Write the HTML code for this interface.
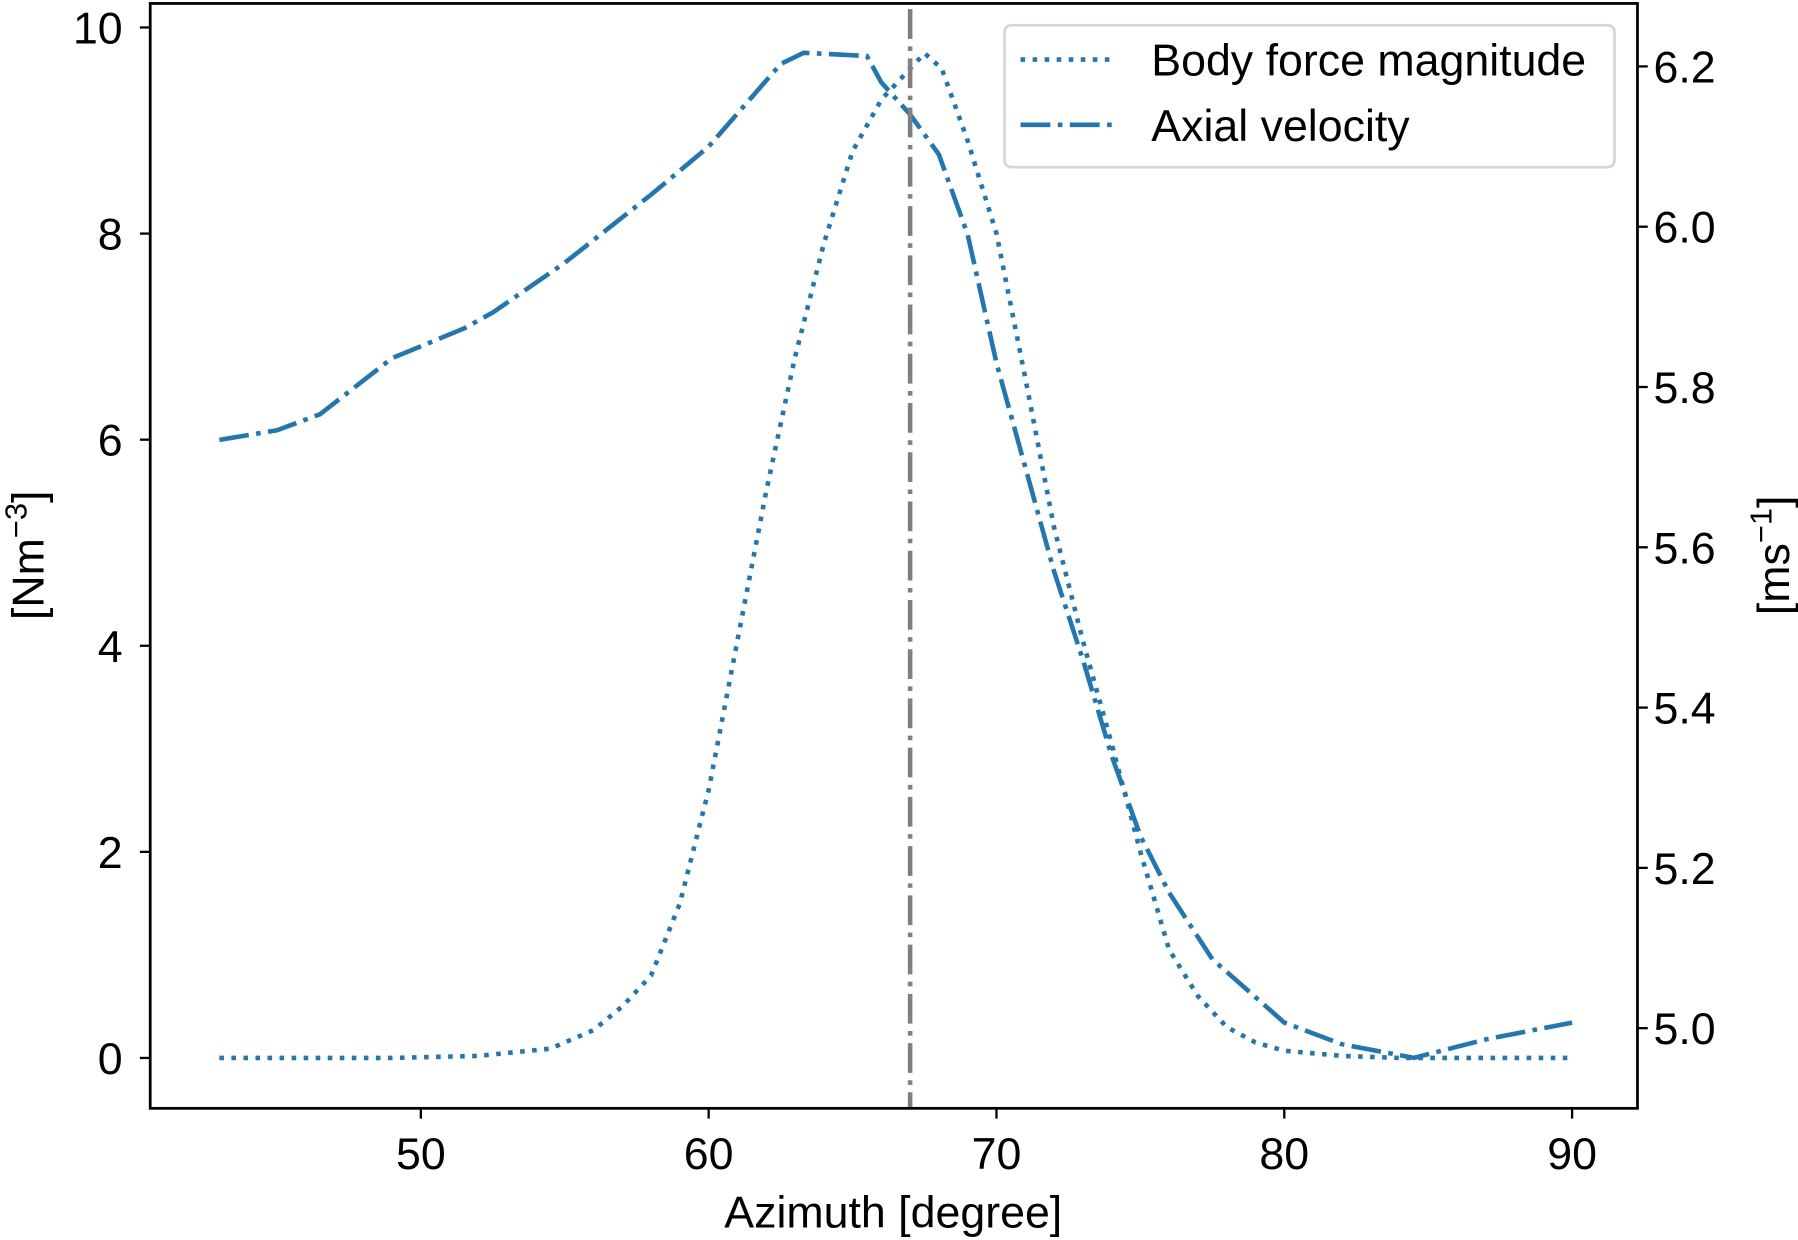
<!DOCTYPE html>
<html><head><meta charset="utf-8"><style>
html,body{margin:0;padding:0;background:#fff;}
svg{display:block;}
text{font-family:"Liberation Sans","DejaVu Sans",sans-serif;fill:#000;}
</style></head><body>
<svg id="chart" width="1798" height="1240" viewBox="0 0 1568 1083" preserveAspectRatio="none" xmlns="http://www.w3.org/2000/svg">
<g id="plot"></g>
</svg>
<script>
const xTicks=[50,60,70,80,90];
const yLeftTicks=[0,2,4,6,8,10];
const yRightTicks=[5.0,5.2,5.4,5.6,5.8,6.0,6.2];
const bodyX=[43,46,49,52,54.5,56,57,58,59,60,61,62,63,64,65,66,67,67.5,68.1,69,70,71,72,73,74,75,76,77,78,79,80,82,84,86,88,90];
const bodyY=[0,0,0,0.02,0.09,0.27,0.5,0.8,1.5,2.6,4.05,5.5,6.8,7.9,8.8,9.3,9.6,9.75,9.6,8.9,8.0,6.6,5.15,4.05,3.05,2.0,1.05,0.6,0.3,0.15,0.07,0.02,0,0,0,0];
const velX=[43,45,46.5,49,51.5,52.5,55,58,60,62.5,63.3,65.5,66,67,67.5,68,69,70,71,72,73,74,75,76,77.5,80,82,84.5,87,90];
const velY=[5.734,5.746,5.766,5.836,5.873,5.893,5.955,6.04,6.1,6.203,6.217,6.213,6.18,6.14,6.115,6.09,5.99,5.83,5.7,5.57,5.46,5.34,5.24,5.169,5.086,5.007,4.98,4.963,4.986,5.007];
const vlineX=67;

const L=131,R=1428,T=3,B=968;
const sx=v=>367+(v-50)*25.1;
const syL=v=>924-v*90;
const syR=v=>898-(v-5)*700;
const NS="http://www.w3.org/2000/svg";
const g=document.getElementById('plot');
function mk(tag,attrs,parent){const e=document.createElementNS(NS,tag);for(const k in attrs)e.setAttribute(k,attrs[k]);(parent||g).appendChild(e);return e;}
const blue="#1f77b4";

let bp=bodyX.map((x,i)=>sx(x).toFixed(1)+","+syL(bodyY[i]).toFixed(1)).join(" ");
let body=mk('polyline',{points:bp,fill:"none",stroke:blue,"stroke-width":4,"stroke-dasharray":"4 6.5"});


let vp=velX.map((x,i)=>sx(x).toFixed(1)+","+syR(velY[i]).toFixed(1)).join(" ");
let vel=mk('polyline',{points:vp,fill:"none",stroke:blue,"stroke-width":4,"stroke-dasharray":"26 6.5 4 6.5"});


let vl=mk('line',{x1:sx(vlineX),x2:sx(vlineX),y1:8,y2:968,stroke:"#808080","stroke-width":4,"stroke-dasharray":"26 6.5 4 6.5"});



let frame=mk('rect',{x:L,y:T,width:R-L,height:B-T,fill:"none",stroke:"#000","stroke-width":2.4});



xTicks.forEach(v=>{
 let t=mk('line',{x1:sx(v),x2:sx(v),y1:B,y2:B+9,stroke:"#000","stroke-width":2});
 
 
 let l=mk('text',{x:sx(v),y:B+53,"text-anchor":"middle","font-size":39});
 l.textContent=v;
 
 
});
yLeftTicks.forEach(v=>{
 let t=mk('line',{x1:L-9,x2:L,y1:syL(v),y2:syL(v),stroke:"#000","stroke-width":2});
 
 
 let l=mk('text',{x:L-24,y:syL(v)+14,"text-anchor":"end","font-size":39});
 l.textContent=v;
 
 
});
yRightTicks.forEach(v=>{
 let t=mk('line',{x1:R,x2:R+9,y1:syR(v),y2:syR(v),stroke:"#000","stroke-width":2});
 
 
 let l=mk('text',{x:R+14,y:syR(v)+14,"text-anchor":"start","font-size":39});
 l.textContent=v.toFixed(1);
 
 
});
</script>
<script>
(function(){
const NS="http://www.w3.org/2000/svg";
const svg=document.getElementById('chart');
function add(html){const w=document.createElementNS(NS,'g');w.innerHTML=html;svg.appendChild(w);}
add(`<text x="779" y="1072" text-anchor="middle" font-size="39">Azimuth [degree]</text>
<text transform="translate(38,485) rotate(-90)" text-anchor="middle" font-size="39">[Nm<tspan dy="-15" font-size="27">−3</tspan><tspan dy="15">]</tspan></text>
<text transform="translate(1560,485) rotate(-90)" text-anchor="middle" font-size="39">[ms<tspan dy="-15" font-size="27">−1</tspan><tspan dy="15">]</tspan></text>
<g>
<rect x="876" y="22" width="532" height="124" rx="6" fill="#fff" fill-opacity="0.8" stroke="#d6d6d6" stroke-width="2.4"/>
<line x1="890" x2="970" y1="52" y2="52" stroke="#1f77b4" stroke-width="4" stroke-dasharray="4 6.5"/>
<text x="1004" y="66" font-size="39">Body force magnitude</text>
<line x1="890" x2="970" y1="109" y2="109" stroke="#1f77b4" stroke-width="4" stroke-dasharray="26 6.5 4 6.5"/>
<text x="1004" y="123" font-size="39">Axial velocity</text>
</g>`);
})();
</script>
</body></html>
